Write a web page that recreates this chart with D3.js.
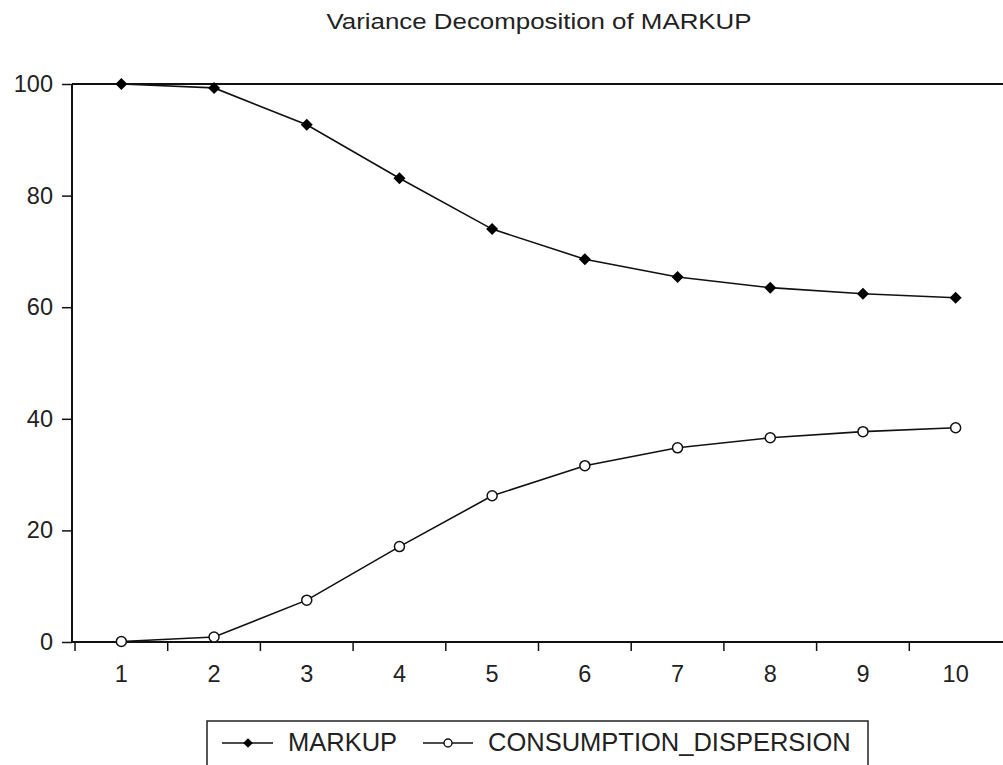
<!DOCTYPE html>
<html>
<head>
<meta charset="utf-8">
<script src="https://cdn.jsdelivr.net/npm/d3@7"></script>
<style>
  body { margin: 0; background: #fff; }
  text { font-family: "Liberation Sans", Arial, sans-serif; fill: #222; }
</style>
</head>
<body>
<div id="chart"></div>
<script>
var periods = [1, 2, 3, 4, 5, 6, 7, 8, 9, 10];
var markup = [100, 99.3, 92.7, 83.1, 74.0, 68.6, 65.4, 63.5, 62.4, 61.7];
var dispersion = [0.1, 0.9, 7.5, 17.1, 26.2, 31.6, 34.8, 36.6, 37.7, 38.4];
var yTicks = [0, 20, 40, 60, 80, 100];

var W = 1003, H = 765;
var svg = d3.select("#chart").append("svg")
    .attr("width", W)
    .attr("height", H);

// plot area
var plotLeft = 72, plotTop = 84, plotBottom = 642;

var x = d3.scaleBand()
    .domain(periods)
    .range([75, 1002]);

var y = d3.scaleLinear()
    .domain([0, 100])
    .range([plotBottom, plotTop]);

// title (the source image is stretched a bit horizontally)
svg.append("text")
    .attr("transform", "translate(539,29) scale(1.15,1)")
    .attr("text-anchor", "middle")
    .style("font-size", "22.5px")
    .text("Variance Decomposition of MARKUP");

// y axis
var yAxis = svg.append("g")
    .attr("transform", "translate(" + plotLeft + ",0)")
    .call(d3.axisLeft(y).tickValues(yTicks).tickSize(10).tickPadding(9));
yAxis.select(".domain").attr("d", "M0," + plotTop + "V" + plotBottom)
    .attr("stroke", "#111").attr("stroke-width", 2);
yAxis.selectAll(".tick line").attr("stroke", "#111").attr("stroke-width", 1.5);
yAxis.selectAll("text").style("font-size", "23.5px").style("fill", "#222")
    .style("font-family", "'Liberation Sans', Arial, sans-serif");

// x axis, ticks on band edges
var xAxis = svg.append("g")
    .attr("transform", "translate(0," + plotBottom + ")");
xAxis.append("line")
    .attr("x1", plotLeft).attr("x2", W)
    .attr("stroke", "#111").attr("stroke-width", 2);
xAxis.selectAll(".edge")
    .data(periods)
    .enter().append("line")
    .attr("x1", function(d) { return x(d); })
    .attr("x2", function(d) { return x(d); })
    .attr("y1", 0).attr("y2", 9)
    .attr("stroke", "#111").attr("stroke-width", 1.5);
xAxis.selectAll(".lab")
    .data(periods)
    .enter().append("text")
    .attr("x", function(d) { return x(d) + x.bandwidth() / 2; })
    .attr("y", 40)
    .attr("text-anchor", "middle")
    .style("font-size", "23.5px")
    .text(function(d) { return d; });

// top line at 100
svg.append("line")
    .attr("x1", plotLeft).attr("x2", W)
    .attr("y1", y(100)).attr("y2", y(100))
    .attr("stroke", "#111").attr("stroke-width", 2);

var cx = function(d, i) { return x(periods[i]) + x.bandwidth() / 2; };
var line = d3.line()
    .x(cx)
    .y(function(d) { return y(d); });

// square turned 45 degrees
var diamond = d3.symbol().type(d3.symbolSquare).size(72);

function drawSeries(values, filled) {
  svg.append("path")
      .datum(values)
      .attr("d", line)
      .attr("fill", "none")
      .attr("stroke", "#111")
      .attr("stroke-width", 1.6);
  if (filled) {
    svg.selectAll(null)
        .data(values)
        .enter().append("path")
        .attr("d", diamond)
        .attr("transform", function(d, i) { return "translate(" + cx(d, i) + "," + y(d) + ") rotate(45)"; })
        .attr("fill", "#000");
  } else {
    svg.selectAll(null)
        .data(values)
        .enter().append("circle")
        .attr("cx", cx)
        .attr("cy", function(d) { return y(d); })
        .attr("r", 5)
        .attr("fill", "#fff")
        .attr("stroke", "#111")
        .attr("stroke-width", 1.5);
  }
}

drawSeries(markup, true);
drawSeries(dispersion, false);

// legend
var lg = svg.append("g");
lg.append("rect")
    .attr("x", 207).attr("y", 721)
    .attr("width", 661).attr("height", 60)
    .attr("fill", "#fff")
    .attr("stroke", "#222").attr("stroke-width", 1.5);

lg.append("line").attr("x1", 222).attr("x2", 273).attr("y1", 743).attr("y2", 743)
    .attr("stroke", "#111").attr("stroke-width", 1.6);
lg.append("path").attr("d", d3.symbol().type(d3.symbolSquare).size(45))
    .attr("transform", "translate(248,743) rotate(45)").attr("fill", "#000");
lg.append("text").attr("x", 288).attr("y", 751)
    .style("font-size", "25.5px").text("MARKUP");

lg.append("line").attr("x1", 423).attr("x2", 473).attr("y1", 743).attr("y2", 743)
    .attr("stroke", "#111").attr("stroke-width", 1.6);
lg.append("circle").attr("cx", 448).attr("cy", 743).attr("r", 4)
    .attr("fill", "#fff").attr("stroke", "#111").attr("stroke-width", 1.4);
lg.append("text").attr("x", 488).attr("y", 751)
    .style("font-size", "25.5px").text("CONSUMPTION_DISPERSION");
</script>
</body>
</html>
